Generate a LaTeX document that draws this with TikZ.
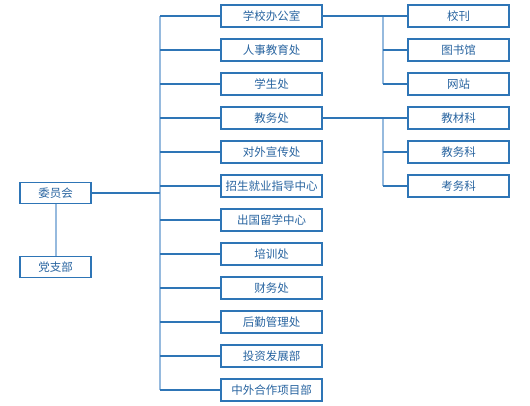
\documentclass[tikz,border=0pt]{standalone}
\usepackage{fontspec}
\setmainfont{Noto Sans CJK SC}
\usepackage{tikz}
\usetikzlibrary{positioning,calc}
\definecolor{linkblue}{RGB}{46,117,182}
\definecolor{trunkblue}{RGB}{150,186,222}
\definecolor{textblue}{RGB}{40,100,160}

\begin{document}
\begin{tikzpicture}[
    x=1pt, y=-1pt,
    box/.style={rectangle, draw=linkblue, line width=1.2pt, fill=white,
                minimum width=101pt, minimum height=22pt, inner sep=0pt,
                align=center, font=\fontsize{11.5}{13}\selectfont, text=textblue},
    topbox/.style={box, minimum width=71pt, minimum height=21pt},
    unitbox/.style={box},
    subbox/.style={box},
    branch/.style={draw=linkblue, line width=1.2pt},
    trunk/.style={draw=trunkblue, line width=2pt},
    node distance=10.8pt and 84.8pt
  ]
  \useasboundingbox (0,0) rectangle (530,406);

  %% Committee and party branch (left)
  \node[topbox] (committee) at (55.5,193) {委员会};
  \node[topbox, below=51.8pt of committee] (party) {党支部};

  %% Departments (middle column, top to bottom)
  \node[unitbox] (office) at (271.5,16) {学校办公室};
  \node[unitbox, below=of office] (personnel) {人事教育处};
  \node[unitbox, below=of personnel] (students) {学生处};
  \node[unitbox, below=of students] (academic) {教务处};
  \node[unitbox, below=of academic] (publicity) {对外宣传处};
  \node[unitbox, below=of publicity] (career) {招生就业指导中心};
  \node[unitbox, below=of career] (abroad) {出国留学中心};
  \node[unitbox, below=of abroad] (training) {培训处};
  \node[unitbox, below=of training] (finance) {财务处};
  \node[unitbox, below=of finance] (logistics) {后勤管理处};
  \node[unitbox, below=of logistics] (invest) {投资发展部};
  \node[unitbox, below=of invest] (coop) {中外合作项目部};

  %% Sections (right column)
  \node[subbox, right=of office] (journal) {校刊};
  \node[subbox, right=of personnel] (library) {图书馆};
  \node[subbox, right=of students] (website) {网站};
  \node[subbox, right=of academic] (materials) {教材科};
  \node[subbox, right=of publicity] (affairs) {教务科};
  \node[subbox, right=of career] (exams) {考务科};

  %% Trunk lines
  \coordinate (trunk) at (160,0);
  \coordinate (subtrunk) at (383,0);

  \draw[trunk] (committee) -- (party);
  \draw[trunk] (trunk |- office) -- (trunk |- coop);
  \draw[trunk] (subtrunk |- office) -- (subtrunk |- website);
  \draw[trunk] (subtrunk |- academic) -- (subtrunk |- exams);

  %% Branches
  \draw[branch] (committee) -- (trunk |- committee);
  \foreach \n in {office,personnel,students,academic,publicity,career,
                  abroad,training,finance,logistics,invest,coop}
    \draw[branch] (trunk |- \n) -- (\n);
  \draw[branch] (office) -- (journal);
  \draw[branch] (academic) -- (materials);
  \foreach \n in {library,website,affairs,exams}
    \draw[branch] (subtrunk |- \n) -- (\n);

\end{tikzpicture}
\end{document}
